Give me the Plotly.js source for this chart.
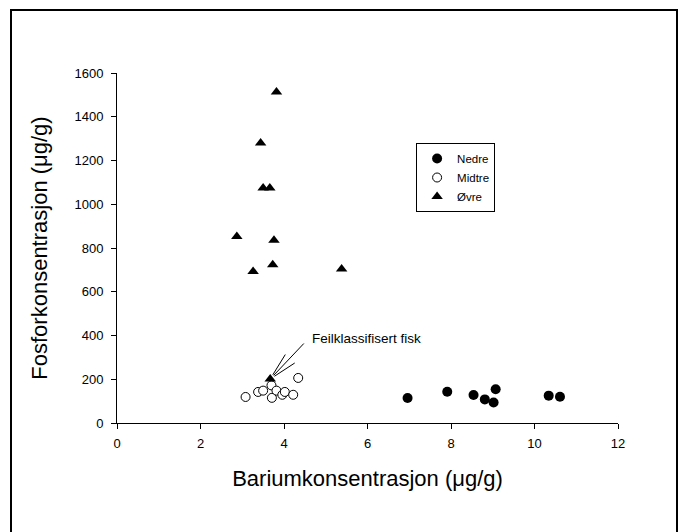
<!DOCTYPE html>
<html>
<head>
<meta charset="utf-8">
<script src="https://cdn.plot.ly/plotly-3.0.1.min.js"></script>
<style>
  html, body { margin: 0; padding: 0; background: #fff; overflow: hidden; }
  #chart { width: 680px; height: 532px; }
  #frame { position: absolute; left: 10px; top: 9px; width: 664px; height: 600px;
           border: 2px solid #000; pointer-events: none; }
</style>
</head>
<body>
<div id="chart"></div>
<div id="frame"></div>
<script>
// Nedre (filled circles)
const nedreX = [6.96, 7.91, 8.54, 8.81, 9.02, 9.07, 10.34, 10.61];
const nedreY = [114, 143, 128, 108, 94, 154, 125, 120];
// Midtre (open circles)
const midtreX = [3.08, 3.38, 3.50, 3.70, 3.71, 3.82, 3.96, 4.02, 4.22, 4.34];
const midtreY = [119, 142, 148, 172, 115, 148, 129, 142, 129, 206];
// Øvre (triangles)
const ovreX = [3.82, 3.44, 3.50, 3.66, 2.87, 3.76, 3.26, 3.73, 5.38, 3.67];
const ovreY = [1513, 1280, 1074, 1074, 853, 835, 693, 724, 704, 201];
// misclassified fish (index into Øvre)
const misIdx = 9;
const annotText = "Feilklassifisert fisk";
const xTitle = "Bariumkonsentrasjon (μg/g)";
const yTitle = "Fosforkonsentrasjon (μg/g)";

const font = {family: "Arial, 'Liberation Sans', sans-serif", color: "#000"};
const f = s => Object.assign({size: s}, font);

const traces = [
  {x: nedreX, y: nedreY, name: "Nedre", mode: "markers", type: "scatter",
   marker: {symbol: "circle", size: 10, color: "#000", line: {width: 0}}},
  {x: midtreX, y: midtreY, name: "Midtre", mode: "markers", type: "scatter",
   marker: {symbol: "circle", size: 9, color: "#fff", line: {width: 1, color: "#000"}}},
  {x: ovreX, y: ovreY, name: "Øvre", mode: "markers", type: "scatter",
   marker: {symbol: "triangle-up", size: 10, color: "#000", line: {width: 0}}}
];

const mx = ovreX[misIdx], my = ovreY[misIdx];
const arrowBase = {x: mx, y: my, xref: "x", yref: "y", text: "", showarrow: true,
  arrowhead: 0, arrowwidth: 1, arrowcolor: "#000", standoff: 5};
const annotations = [
  Object.assign({}, arrowBase, {ax: 35, ay: -37}),
  Object.assign({}, arrowBase, {ax: 16, ay: -26}),
  Object.assign({}, arrowBase, {ax: 26, ay: -17}),
  {x: mx, y: my, xref: "x", yref: "y", text: annotText, showarrow: false,
   xanchor: "left", yanchor: "middle", xshift: 40, yshift: 41, font: f(13.5)}
];

const layout = {
  width: 680, height: 532,
  margin: {l: 117, r: 62, t: 73, b: 109},
  paper_bgcolor: "#fff", plot_bgcolor: "#fff",
  font: f(12),
  showlegend: true,
  legend: {x: 0.597, y: 0.80, xanchor: "left", yanchor: "top",
           bordercolor: "#000", borderwidth: 1, bgcolor: "#fff",
           font: f(11.5)},
  xaxis: {range: [0, 12], dtick: 2, tick0: 0, ticks: "outside", ticklen: 5,
          tickcolor: "#000", showline: true, linecolor: "#000", linewidth: 1,
          showgrid: false, zeroline: false, tickfont: f(13), ticklabelstandoff: 3,
          title: {text: xTitle, font: f(22), standoff: 21}},
  yaxis: {range: [0, 1600], dtick: 200, tick0: 0, ticks: "outside", ticklen: 5,
          tickcolor: "#000", showline: true, linecolor: "#000", linewidth: 1,
          showgrid: false, zeroline: false, tickfont: f(13), ticklabelstandoff: 5,
          title: {text: yTitle, font: f(22), standoff: 20}},
  annotations: annotations
};

Plotly.newPlot("chart", traces, layout, {staticPlot: true, displayModeBar: false});
</script>
</body>
</html>
